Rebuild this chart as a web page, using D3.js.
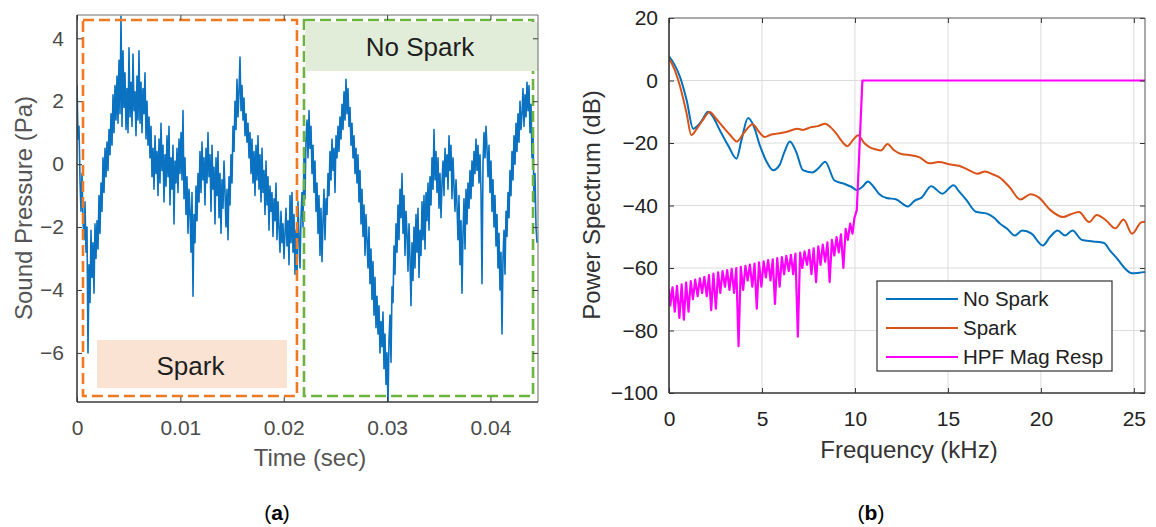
<!DOCTYPE html>
<html><head><meta charset="utf-8">
<script src="https://cdn.jsdelivr.net/npm/d3@7"></script>
<style>
body{margin:0;background:#fff}
svg{display:block}
text{font-family:"Liberation Sans",Arial,sans-serif}
</style>
</head><body>
<svg id="chart" width="1156" height="527"></svg>
<script>
// ---------- Panel (a): sound pressure time series ----------
const timeEnd = 0.0446;              // right end of time axis (s)
const pressure = [
2.5,0.8,1.2,-0.5,-1.5,-0.3,-1.8,-2.4,-1.2,-2.8,
-2.0,-6.0,-3.2,-4.4,-2.1,-3.6,-2.5,-4.1,-1.9,-3.0,
-1.8,-2.7,-1.0,-2.2,-0.6,-1.5,0.2,-0.9,0.5,-0.4,
0.7,-0.2,1.1,0.3,1.6,0.6,2.2,1.0,2.5,1.4,
2.8,1.3,3.3,1.6,4.7,1.2,3.6,1.8,2.9,1.1,
2.4,1.0,3.7,1.5,2.6,1.2,3.5,1.7,2.3,0.9,
2.8,1.4,3.6,1.3,2.6,1.0,2.4,1.6,2.9,0.8,
2.0,0.6,1.5,0.2,1.2,-0.4,0.5,-0.8,0.9,-0.3,
0.4,-1.0,0.8,-0.6,1.3,-0.2,0.6,-1.2,0.3,-0.7,
0.9,-0.4,1.2,-1.3,0.2,-0.8,0.6,-1.9,0.1,-0.6,
0.5,-0.9,0.8,-0.3,1.0,-0.5,1.7,-1.1,0.2,-1.6,
-0.4,-2.2,-0.8,-1.5,-2.8,-0.9,-4.2,-1.6,-2.5,-0.7,
-1.8,-0.3,-1.2,0.4,-0.9,0.7,-0.5,0.2,-1.3,0.5,
-0.6,1.0,-0.4,0.3,-1.5,0.6,-0.8,-0.1,-1.9,0.2,
-1.0,0.4,-1.7,-0.3,-2.2,-0.5,-1.4,0.1,-0.9,-2.0,
-0.8,-2.4,-0.4,-1.3,0.3,-0.6,1.2,0.4,2.0,1.1,
2.7,1.5,2.3,3.4,1.7,2.5,1.4,2.1,0.9,1.6,
0.7,1.3,0.2,1.0,-0.3,0.8,-0.6,0.4,-1.0,0.6,
-0.5,0.9,-0.8,0.3,-1.2,0.5,-0.9,-0.2,-1.6,0.1,
-1.3,-0.4,-2.1,-0.7,-1.5,-0.9,-2.3,-1.1,-1.8,-0.6,
-2.4,-1.2,-2.0,-2.8,-1.5,-2.5,-1.9,-3.0,-2.2,-1.4,
-2.6,-1.8,-3.2,-1.0,-2.5,-0.9,-2.8,-1.6,-3.5,-2.1,
-3.6,-1.2,-2.3,-3.3,-1.7,-0.9,-2.0,0.3,-1.1,0.8,
1.4,0.2,1.7,0.5,1.2,-0.3,0.6,-0.9,0.1,-1.5,
-0.6,-2.2,-1.0,-2.9,-1.4,-3.1,-1.8,-0.8,-2.4,-1.1,
-1.6,-0.3,-1.0,0.4,-0.5,0.8,-0.2,0.5,-0.9,0.9,
0.2,1.2,0.4,1.5,0.8,1.9,1.1,2.3,1.4,2.7,
1.6,2.4,1.2,1.8,0.6,1.3,0.2,0.9,-0.3,0.5,
-0.6,0.3,-1.2,-0.2,-1.9,-0.8,-2.3,-1.3,-2.9,-1.6,
-2.4,-3.3,-2.0,-3.8,-2.7,-4.3,-3.1,-4.8,-3.6,-5.2,
-4.2,-5.4,-4.5,-6.0,-5.0,-5.8,-4.7,-6.5,-5.4,-7.0,
-6.0,-7.65,-5.6,-4.8,-6.3,-3.9,-4.4,-2.6,-3.5,-1.9,
-2.8,-1.3,-2.4,-0.8,-1.7,-0.3,-2.2,-1.0,-2.9,-1.5,
-2.2,-3.4,-1.9,-3.0,-4.5,-2.5,-3.7,-2.0,-3.3,-1.6,
-2.8,-1.4,-3.6,-2.1,-2.9,-1.2,-2.4,-1.0,-2.7,-0.9,
-1.8,-0.6,-2.1,-0.4,-1.3,0.2,-0.8,1.1,-0.5,0.4,
-0.9,0.2,-1.4,-0.3,-1.7,-0.6,0.1,-1.0,0.5,-0.4,
0.3,-0.8,0.9,-0.2,0.6,-1.1,0.2,-0.7,-1.5,-0.5,
-1.3,-2.4,-1.0,-3.2,-1.8,-4.1,-2.2,-1.1,-2.7,-0.8,
-1.9,-0.6,-1.4,-0.2,-1.1,0.1,-0.7,0.4,-0.3,0.8,
-0.2,0.6,-0.6,0.3,-0.9,-3.8,0.0,1.0,0.2,1.2,
0.5,-0.4,0.6,-0.9,0.1,-1.5,-0.5,-2.0,-1.0,-2.6,
-1.6,-3.3,-2.2,-4.0,-2.8,-5.4,-3.0,-2.1,-3.5,-1.5,
-2.3,-0.9,-1.7,-0.2,-1.0,0.4,-0.5,0.9,0.0,1.3,
0.4,1.6,0.7,2.0,1.1,1.6,2.4,1.2,2.2,1.5,
2.6,1.7,2.5,1.0,1.9,0.2,1.1,-1.2,-0.3,-2.0,
-2.5
];
const sampleStep = timeEnd / 461;    // sampling interval (s)
const timeTicks = [0, 0.01, 0.02, 0.03, 0.04];
const timeTickLabels = ["0", "0.01", "0.02", "0.03", "0.04"];
const pressureTicks = [-6, -4, -2, 0, 2, 4];
const pressureTickLabels = ["\u22126", "\u22124", "\u22122", "0", "2", "4"];
const pressureRange = [-7.56, 4.74];
// region annotations: [t0, t1, p0, p1]
const sparkRegion = [0.00058, 0.02128, -7.37, 4.58];
const noSparkRegion = [0.02196, 0.04412, -7.37, 4.58];
const sparkLabelBox = [0.001935, 0.02032, -7.117, -5.59];
const noSparkLabelBox = [0.02206, 0.0446, 2.96, 4.518];
const regionLabels = ["Spark", "No Spark"];
const regionLabelPos = [[0.01098, -6.417], [0.03318, 3.723]];

// ---------- Panel (b): power spectrum ----------
const noSparkFreq = [0,0.3,0.6,0.95,1.3,1.56,1.8,2.1,2.35,2.74,3.2,3.63,3.9,4.25,4.55,4.9,5.25,5.6,5.95,6.2,6.5,6.85,7.2,7.7,8.05,8.4,8.9,9.4,9.8,10.1,10.4,10.7,11.0,11.3,11.7,12.2,12.85,13.2,13.6,14.1,14.7,15.3,15.6,16.0,16.5,17.1,17.5,17.8,18.2,18.6,19.0,19.5,20.1,20.5,20.9,21.3,21.7,22.2,22.8,23.4,23.7,24.1,24.5,24.9,25.3,25.6];
const noSparkDb = [7.7,5,1,-6.3,-15.4,-14.4,-12.5,-10,-11.5,-16,-21,-25,-19,-12,-14.5,-21,-26,-28.7,-27,-23,-19.5,-23,-28.7,-29.4,-28,-26,-32,-33,-34,-35,-34,-32.3,-34,-36.3,-37.6,-38,-40.3,-38.5,-37.4,-33.8,-36.2,-33.5,-35.5,-38.3,-42,-42.6,-44,-45.8,-47.5,-49.6,-48,-49,-52.8,-50,-48,-49.6,-48,-51,-51.5,-52,-54.3,-57,-60,-61.7,-61.5,-61.3];
const sparkFreq = [0,0.3,0.6,0.95,1.2,1.5,1.8,2.2,2.5,2.9,3.3,3.65,4.0,4.5,4.85,5.15,5.5,5.8,6.3,6.9,7.2,7.6,8.0,8.4,8.7,9.0,9.3,9.6,9.9,10.17,10.5,10.78,11.1,11.4,11.75,12.1,12.55,13.0,13.45,14.0,14.5,15.16,15.6,15.96,16.6,17.0,17.4,17.75,18.3,18.9,19.45,19.9,20.5,21.2,21.6,22.05,22.6,23.0,23.5,24.0,24.45,24.9,25.4,25.6];
const sparkDb = [7,3.5,-2,-10.6,-17.5,-15.4,-12.8,-10.1,-12,-14.8,-17.5,-19.5,-17,-14,-16.5,-18.1,-17.3,-17,-16.5,-15.4,-15.8,-15,-14.6,-13.8,-15,-17,-19.5,-21,-19,-17.5,-20,-21.3,-22,-22.4,-20.3,-22.3,-23.6,-23.9,-24.5,-26.5,-26.1,-26.9,-27.3,-28.2,-29.8,-29.1,-30,-30.9,-34,-38.1,-36.4,-37.5,-41.4,-43.7,-42.8,-42.1,-45.3,-43,-44.7,-47.3,-44.5,-49,-45.4,-45.2];
const hpfFreq = [0,0.07,0.19,0.31,0.43,0.56,0.68,0.80,0.92,1.05,1.17,1.29,1.41,1.54,1.66,1.78,1.90,2.03,2.15,2.27,2.39,2.52,2.64,2.76,2.88,3.01,3.13,3.25,3.37,3.50,3.62,3.74,3.86,3.99,4.11,4.23,4.35,4.48,4.60,4.72,4.84,4.97,5.09,5.21,5.33,5.46,5.58,5.70,5.82,5.95,6.07,6.19,6.31,6.44,6.56,6.68,6.80,6.93,7.05,7.17,7.29,7.42,7.54,7.66,7.78,7.91,8.03,8.15,8.27,8.40,8.52,8.64,8.76,8.89,9.01,9.13,9.25,9.38,9.50,9.62,9.74,9.87,9.97,10.1,10.4,25.6];
const hpfDb = [-66.8,-72,-66.2,-74,-65.7,-76,-65.2,-76.5,-64.7,-74,-64.2,-70,-63.7,-69,-63.3,-68,-62.8,-69,-62.3,-73.5,-61.8,-73,-61.4,-68,-61.0,-66,-60.7,-67,-60.3,-68,-60.0,-85,-59.6,-67,-59.3,-64,-58.9,-66,-58.6,-73,-58.2,-66,-57.9,-63,-57.5,-64,-57.2,-71.5,-56.8,-66,-56.5,-62,-56.1,-61,-55.8,-62,-55.4,-82,-55.1,-60,-54.7,-59,-54.2,-62,-53.7,-64.5,-53.1,-59,-52.5,-58,-51.8,-64.5,-51.0,-56,-50.1,-55,-49.2,-60,-47.5,-51,-45.8,-49,-44,-41.5,0,0];
const freqTicks = [0, 5, 10, 15, 20, 25];
const dbTicks = [-100, -80, -60, -40, -20, 0, 20];
const dbTickLabels = ["\u2212100", "\u221280", "\u221260", "\u221240", "\u221220", "0", "20"];
const seriesNames = ["No Spark", "Spark", "HPF Mag Resp"];
const seriesColors = ["#0072BD", "#D95319", "#FF00FF"];

// ---------- drawing ----------
const svg = d3.select("#chart");
const defs = svg.append("defs");

function frame(g, x, y, xt, xl, yt, yl, opts) {
  const [x0, x1] = x.range(), [y0, y1] = y.range();
  g.append("g").attr("transform", `translate(0,${y0})`)
    .call(d3.axisBottom(x).tickValues(xt).tickFormat((d, i) => xl[i]).tickSize(-5).tickPadding(opts.xpad))
    .call(a => a.select(".domain").remove())
    .call(a => a.selectAll("text").attr("font-size", opts.fs).attr("fill", opts.tc))
    .call(a => a.selectAll("line").attr("stroke", opts.ac));
  g.append("g").attr("transform", `translate(0,${y1})`)
    .call(d3.axisTop(x).tickValues(xt).tickFormat("").tickSize(-5))
    .call(a => a.select(".domain").remove())
    .call(a => a.selectAll("line").attr("stroke", opts.ac));
  g.append("g").attr("transform", `translate(${x0},0)`)
    .call(d3.axisLeft(y).tickValues(yt).tickFormat((d, i) => yl[i]).tickSize(-5).tickPadding(opts.ypad))
    .call(a => a.select(".domain").remove())
    .call(a => a.selectAll("text").attr("font-size", opts.fs).attr("fill", opts.tc))
    .call(a => a.selectAll("line").attr("stroke", opts.ac));
  g.append("g").attr("transform", `translate(${x1},0)`)
    .call(d3.axisRight(y).tickValues(yt).tickFormat("").tickSize(-5))
    .call(a => a.select(".domain").remove())
    .call(a => a.selectAll("line").attr("stroke", opts.ac));
  g.append("line").attr("x1", x0).attr("x2", x1).attr("y1", y1).attr("y2", y1).attr("stroke", opts.bc).attr("stroke-width", 1);
  g.append("line").attr("x1", x1).attr("x2", x1).attr("y1", y0).attr("y2", y1).attr("stroke", opts.bc).attr("stroke-width", 1);
  g.append("line").attr("x1", x0).attr("x2", x1).attr("y1", y0).attr("y2", y0).attr("stroke", opts.ac).attr("stroke-width", 1.6);
  g.append("line").attr("x1", x0).attr("x2", x0).attr("y1", y0).attr("y2", y1).attr("stroke", opts.ac).attr("stroke-width", 1.6);
}

// Panel (a)
const xa = d3.scaleLinear().domain([0, timeEnd]).range([77, 538]);
const ya = d3.scaleLinear().domain(pressureRange).range([402, 15]);
defs.append("clipPath").attr("id", "clipA").append("rect")
  .attr("x", 77).attr("y", 15).attr("width", 461).attr("height", 387);
const ga = svg.append("g");
const sig = pressure.map((v, i) => [i * sampleStep, v]);
ga.append("path").attr("clip-path", "url(#clipA)")
  .attr("d", d3.line().x(d => xa(d[0])).y(d => ya(d[1]))(sig))
  .attr("fill", "none").attr("stroke", "#0a72c0").attr("stroke-width", 1.6).attr("stroke-linejoin", "round");

function regionRect(r, color) {
  ga.append("rect").attr("x", xa(r[0])).attr("y", ya(r[3]))
    .attr("width", xa(r[1]) - xa(r[0])).attr("height", ya(r[2]) - ya(r[3]))
    .attr("fill", "none").attr("stroke", color).attr("stroke-width", 2.6).attr("stroke-dasharray", "11,5");
}
regionRect(sparkRegion, "#F07A22");
regionRect(noSparkRegion, "#6DB33F");
function labelBox(r, color) {
  ga.append("rect").attr("x", xa(r[0])).attr("y", ya(r[3]))
    .attr("width", xa(r[1]) - xa(r[0])).attr("height", ya(r[2]) - ya(r[3]))
    .attr("fill", color);
}
labelBox(sparkLabelBox, "#FBE3D4");
labelBox(noSparkLabelBox, "#E1EDD9");
regionLabels.forEach((t, i) => {
  ga.append("text").attr("x", xa(regionLabelPos[i][0])).attr("y", ya(regionLabelPos[i][1]))
    .attr("dy", "0.35em").attr("text-anchor", "middle").attr("font-size", 26).attr("fill", "#1e1e1e").text(t);
});
frame(ga, xa, ya, timeTicks, timeTickLabels, pressureTicks, pressureTickLabels,
  {xpad: 18.5, ypad: 13, fs: 21, tc: "#4a4a4a", ac: "#3a3a3a", bc: "#6a6a6a"});
ga.append("text").attr("x", 310).attr("y", 466).attr("text-anchor", "middle")
  .attr("font-size", 24).attr("fill", "#555").text("Time (sec)");
ga.append("text").attr("transform", "translate(32,208) rotate(-90)").attr("text-anchor", "middle")
  .attr("font-size", 24).attr("fill", "#555").text("Sound Pressure (Pa)");

// Panel (b)
const xb = d3.scaleLinear().domain([0, 25.6]).range([669, 1145]);
const yb = d3.scaleLinear().domain([-100, 20]).range([393, 18]);
defs.append("clipPath").attr("id", "clipB").append("rect")
  .attr("x", 669).attr("y", 18).attr("width", 476).attr("height", 375);
const gb = svg.append("g");
gb.append("g").selectAll("line").data(freqTicks.slice(1)).join("line")
  .attr("x1", d => xb(d)).attr("x2", d => xb(d)).attr("y1", 18).attr("y2", 393)
  .attr("stroke", "#dcdcdc").attr("stroke-width", 1);
gb.append("g").selectAll("line").data(dbTicks.slice(1, -1)).join("line")
  .attr("x1", 669).attr("x2", 1145).attr("y1", d => yb(d)).attr("y2", d => yb(d))
  .attr("stroke", "#dcdcdc").attr("stroke-width", 1);

const lineB = d3.line().x(d => xb(d[0])).y(d => yb(d[1]));
const seriesData = [
  noSparkFreq.map((f, i) => [f, noSparkDb[i]]),
  sparkFreq.map((f, i) => [f, sparkDb[i]]),
  hpfFreq.map((f, i) => [f, hpfDb[i]])
];
seriesData.forEach((s, i) => {
  gb.append("path").attr("clip-path", "url(#clipB)")
    .attr("d", (i < 2 ? lineB.curve(d3.curveMonotoneX) : lineB.curve(d3.curveLinear))(s))
    .attr("fill", "none").attr("stroke", seriesColors[i]).attr("stroke-width", i < 2 ? 2 : 2.2).attr("stroke-linejoin", "round");
});
frame(gb, xb, yb, freqTicks, freqTicks.map(String), dbTicks, dbTickLabels,
  {xpad: 17.6, ypad: 11, fs: 21, tc: "#222", ac: "#333", bc: "#555"});
gb.append("text").attr("x", 909).attr("y", 458).attr("text-anchor", "middle")
  .attr("font-size", 24).attr("fill", "#333").text("Frequency (kHz)");
gb.append("text").attr("transform", "translate(600,205) rotate(-90)").attr("text-anchor", "middle")
  .attr("font-size", 24).attr("fill", "#333").text("Power Spectrum (dB)");

// legend
const lg = gb.append("g");
lg.append("rect").attr("x", 877).attr("y", 281).attr("width", 235).attr("height", 90)
  .attr("fill", "#fff").attr("stroke", "#333").attr("stroke-width", 1.2);
seriesNames.forEach((n, i) => {
  const yy = 299 + i * 29;
  lg.append("line").attr("x1", 886).attr("x2", 958).attr("y1", yy).attr("y2", yy)
    .attr("stroke", seriesColors[i]).attr("stroke-width", 2);
  lg.append("text").attr("x", 963).attr("y", yy).attr("dy", "0.35em")
    .attr("font-size", 20.5).attr("fill", "#222").text(n);
});

// captions
[["a", 277], ["b", 871]].forEach(([c, x]) => {
  const t = svg.append("text").attr("x", x).attr("y", 520).attr("text-anchor", "middle")
    .attr("font-family", "'Liberation Serif', serif").attr("font-size", 21).attr("fill", "#000");
  t.append("tspan").text("(");
  t.append("tspan").attr("font-weight", "bold").text(c);
  t.append("tspan").text(")");
});
</script>
</body></html>
